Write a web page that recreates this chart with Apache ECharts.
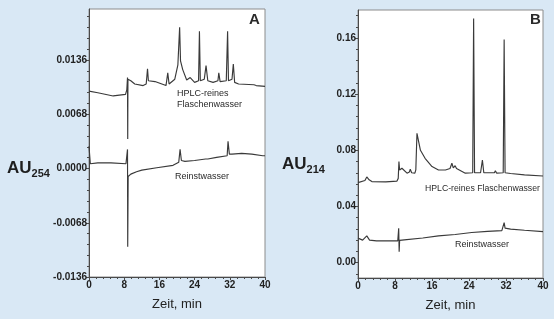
<!DOCTYPE html>
<html>
<head>
<meta charset="utf-8">
<script src="https://cdn.jsdelivr.net/npm/echarts@6/dist/echarts.min.js"></script>
<style>
html,body{margin:0;padding:0;background:#d9e8f5;}
#c{width:554px;height:319px;}
</style>
</head>
<body>
<div id="c"></div>
<script>
// ---- Data ----
var xTicks = [0, 8, 16, 24, 32, 40];
var yTicksA = [-0.0136, -0.0068, 0, 0.0068, 0.0136];
var yTicksB = [0, 0.04, 0.08, 0.12, 0.16];

// Panel A, HPLC-reines Flaschenwasser (AU254)
var tA1 = [0, 2, 5.5, 8.3, 8.6, 8.75, 8.8, 8.85, 9.5, 10.4, 12.3, 13.0, 13.3, 13.5, 15, 17.5, 17.9, 18.2, 19.5, 20.2, 20.6, 20.8, 21.3, 22.2, 23, 24, 24.9, 25.1, 25.3, 26.2, 26.6, 27, 28.2, 29.3, 29.5, 29.8, 31.2, 31.5, 31.7, 32.5, 32.8, 33.1, 34, 37.5, 37.7, 38, 40];
var vA1 = [0.0097, 0.0095, 0.0091, 0.0093, 0.0099, 0.0114, 0.0037, 0.0112, 0.0110, 0.0106, 0.0104, 0.0106, 0.0125, 0.0110, 0.0109, 0.0104, 0.0120, 0.0106, 0.0112, 0.0130, 0.0177, 0.0135, 0.0124, 0.0111, 0.0114, 0.0108, 0.0110, 0.0172, 0.0110, 0.0112, 0.0129, 0.0110, 0.0108, 0.0110, 0.0120, 0.0109, 0.0110, 0.0172, 0.0110, 0.0112, 0.0131, 0.0108, 0.0106, 0.0105, 0.0107, 0.0104, 0.0103];
// Panel A, Reinstwasser
var tA2 = [0, 0.3, 2, 5, 8.4, 8.7, 8.75, 8.8, 8.9, 9.5, 10.8, 12, 15.4, 19.1, 20.4, 20.7, 21.0, 21.8, 24, 26.5, 26.7, 27, 29, 31.4, 31.6, 31.9, 32.5, 34.7, 37, 39.5, 40];
var vA2 = [0.0028, 0.0006, 0.0007, 0.0007, 0.0006, 0.0005, 0.0024, -0.0098, -0.0010, -0.0007, -0.0004, -0.0002, 0.0001, 0.0004, 0.0008, 0.0024, 0.0010, 0.0009, 0.0010, 0.0012, 0.0014, 0.0012, 0.0014, 0.0016, 0.0034, 0.0018, 0.0018, 0.0019, 0.0018, 0.0016, 0.0016];

// Panel B, HPLC-reines Flaschenwasser (AU214)
var tB1 = [0, 1.5, 1.9, 2.4, 3, 6, 8.4, 8.7, 8.85, 9.0, 9.5, 10.6, 11.1, 11.3, 11.6, 12.3, 12.5, 12.75, 13.5, 14.5, 16, 17.4, 18.9, 19.9, 20.3, 20.6, 21, 21.3, 23.2, 24.8, 25.0, 25.2, 26.5, 26.9, 27.2, 29.5, 29.7, 30, 31.4, 31.6, 31.8, 33, 36, 40];
var vB1 = [0.0570, 0.0585, 0.0610, 0.0590, 0.0577, 0.0575, 0.0580, 0.0600, 0.0720, 0.0660, 0.0672, 0.0637, 0.0645, 0.0665, 0.0640, 0.0637, 0.0660, 0.0921, 0.0800, 0.0743, 0.0684, 0.0660, 0.0660, 0.0670, 0.0708, 0.0675, 0.0690, 0.0670, 0.0637, 0.0640, 0.1740, 0.0640, 0.0640, 0.0731, 0.0640, 0.0640, 0.0655, 0.0637, 0.0640, 0.1590, 0.0640, 0.0635, 0.0625, 0.0617];
// Panel B, Reinstwasser
var tB2 = [0, 1.0, 1.9, 2.5, 4, 8.6, 8.8, 8.9, 9.0, 10, 14, 17.4, 21, 24.6, 28, 31.1, 31.4, 31.6, 31.8, 32.2, 33, 36, 40];
var vB2 = [0.0174, 0.0160, 0.0190, 0.0160, 0.0155, 0.0155, 0.0245, 0.0078, 0.0158, 0.0162, 0.0175, 0.0190, 0.0200, 0.0214, 0.0222, 0.0228, 0.0235, 0.0285, 0.0245, 0.0250, 0.0238, 0.0230, 0.0221];

// ---- helpers ----
function zip(t, v) { return t.map(function (x, i) { return [x, v[i]]; }); }
function minors(start, step, max) {
  var out = [];
  for (var k = 0; ; k++) {
    var val = +(start + k * step).toFixed(6);
    if (val > max + 1e-9) break;
    out.push(val);
  }
  return out;
}

var yMinA = -0.0136, yMaxA = 0.0200;
var yMinB = -0.011, yMaxB = 0.18;
var FONT = '"Liberation Sans", Arial, sans-serif';
var axisColor = '#4a4a4a';
var lineColor = '#3a3a3a';

function xAxisDef(grid) {
  return {
    type: 'value', gridIndex: grid, min: 0, max: 40, interval: 8,
    name: 'Zeit, min', nameLocation: 'middle', nameGap: 21,
    nameTextStyle: { fontFamily: FONT, fontSize: 13, color: '#222' },
    axisLine: { show: true, onZero: false, lineStyle: { color: axisColor, width: 1 } },
    axisTick: { show: true, length: 3, lineStyle: { color: axisColor } },
    minorTick: { show: true, splitNumber: 5, length: 2, lineStyle: { color: axisColor } },
    axisLabel: { fontFamily: FONT, fontSize: 10, fontWeight: 'bold', color: '#222', margin: 3 },
    splitLine: { show: false }
  };
}
function yAxisMain(grid, mn, mx, ticks, dec) {
  return {
    type: 'value', gridIndex: grid, min: mn, max: mx, position: 'left',
    axisLine: { show: true, onZero: false, lineStyle: { color: axisColor, width: 1 } },
    axisTick: { show: true, length: 3, customValues: ticks, lineStyle: { color: axisColor } },
    axisLabel: {
      customValues: ticks, fontFamily: FONT, fontSize: 10, fontWeight: 'bold', color: '#222', margin: 2,
      formatter: function (v) { return Number(v).toFixed(dec); }
    },
    splitLine: { show: false }
  };
}
function yAxisMinor(grid, mn, mx, vals) {
  return {
    type: 'value', gridIndex: grid, min: mn, max: mx, position: 'left', offset: 0,
    axisLine: { show: false },
    axisTick: { show: true, length: 2, customValues: vals, lineStyle: { color: axisColor } },
    axisLabel: { show: false },
    splitLine: { show: false }
  };
}
function lineSeries(xi, yi, data) {
  return {
    type: 'line', xAxisIndex: xi, yAxisIndex: yi, data: data,
    showSymbol: false, symbol: 'none', silent: true,
    lineStyle: { color: lineColor, width: 1.15 }
  };
}
function txt(x, y, text, size, bold, align) {
  return {
    type: 'text', left: x, top: y, z: 100,
    style: { text: text, fontFamily: FONT, fontSize: size, fontWeight: bold ? 'bold' : 'normal', fill: '#2a2a2a', textAlign: align || 'left' }
  };
}
function auLabel(x, y, sub) {
  return {
    type: 'text', left: x, top: y, z: 100,
    style: {
      text: '{a|AU}{s|' + sub + '}', fontFamily: FONT, fill: '#1e1e1e',
      rich: {
        a: { fontFamily: FONT, fontSize: 17, fontWeight: 'bold', fill: '#1e1e1e', lineHeight: 20, verticalAlign: 'bottom' },
        s: { fontFamily: FONT, fontSize: 11, fontWeight: 'bold', fill: '#1e1e1e', lineHeight: 20, verticalAlign: 'bottom', padding: [0, 0, -2, 0] }
      }
    }
  };
}

var chart = echarts.init(document.getElementById('c'), null, { renderer: 'canvas' });
chart.setOption({
  animation: false,
  backgroundColor: '#d9e8f5',
  grid: [
    { left: 89, right: 289, top: 9, bottom: 42, show: true, backgroundColor: '#ffffff', borderColor: '#8c8c8c', borderWidth: 1 },
    { left: 358, right: 11, top: 10, bottom: 41, show: true, backgroundColor: '#ffffff', borderColor: '#8c8c8c', borderWidth: 1 }
  ],
  xAxis: [xAxisDef(0), xAxisDef(1)],
  yAxis: [
    yAxisMain(0, yMinA, yMaxA, yTicksA, 4),
    yAxisMinor(0, yMinA, yMaxA, minors(-0.0136, 0.00136, yMaxA)),
    yAxisMain(1, yMinB, yMaxB, yTicksB, 2),
    yAxisMinor(1, yMinB, yMaxB, minors(-0.008, 0.008, yMaxB))
  ],
  series: [
    lineSeries(0, 0, zip(tA1, vA1)),
    lineSeries(0, 0, zip(tA2, vA2)),
    lineSeries(1, 2, zip(tB1, vB1)),
    lineSeries(1, 2, zip(tB2, vB2))
  ],
  graphic: [
    txt(249, 12, 'A', 15, true),
    txt(530, 12, 'B', 15, true),
    txt(177, 89, 'HPLC-reines', 9, false),
    txt(177, 100, 'Flaschenwasser', 9, false),
    txt(175, 172, 'Reinstwasser', 9, false),
    txt(425, 184, 'HPLC-reines Flaschenwasser', 8.7, false),
    txt(455, 240, 'Reinstwasser', 9, false),
    auLabel(7, 160, '254'),
    auLabel(282, 156, '214')
  ]
});
</script>
</body>
</html>
